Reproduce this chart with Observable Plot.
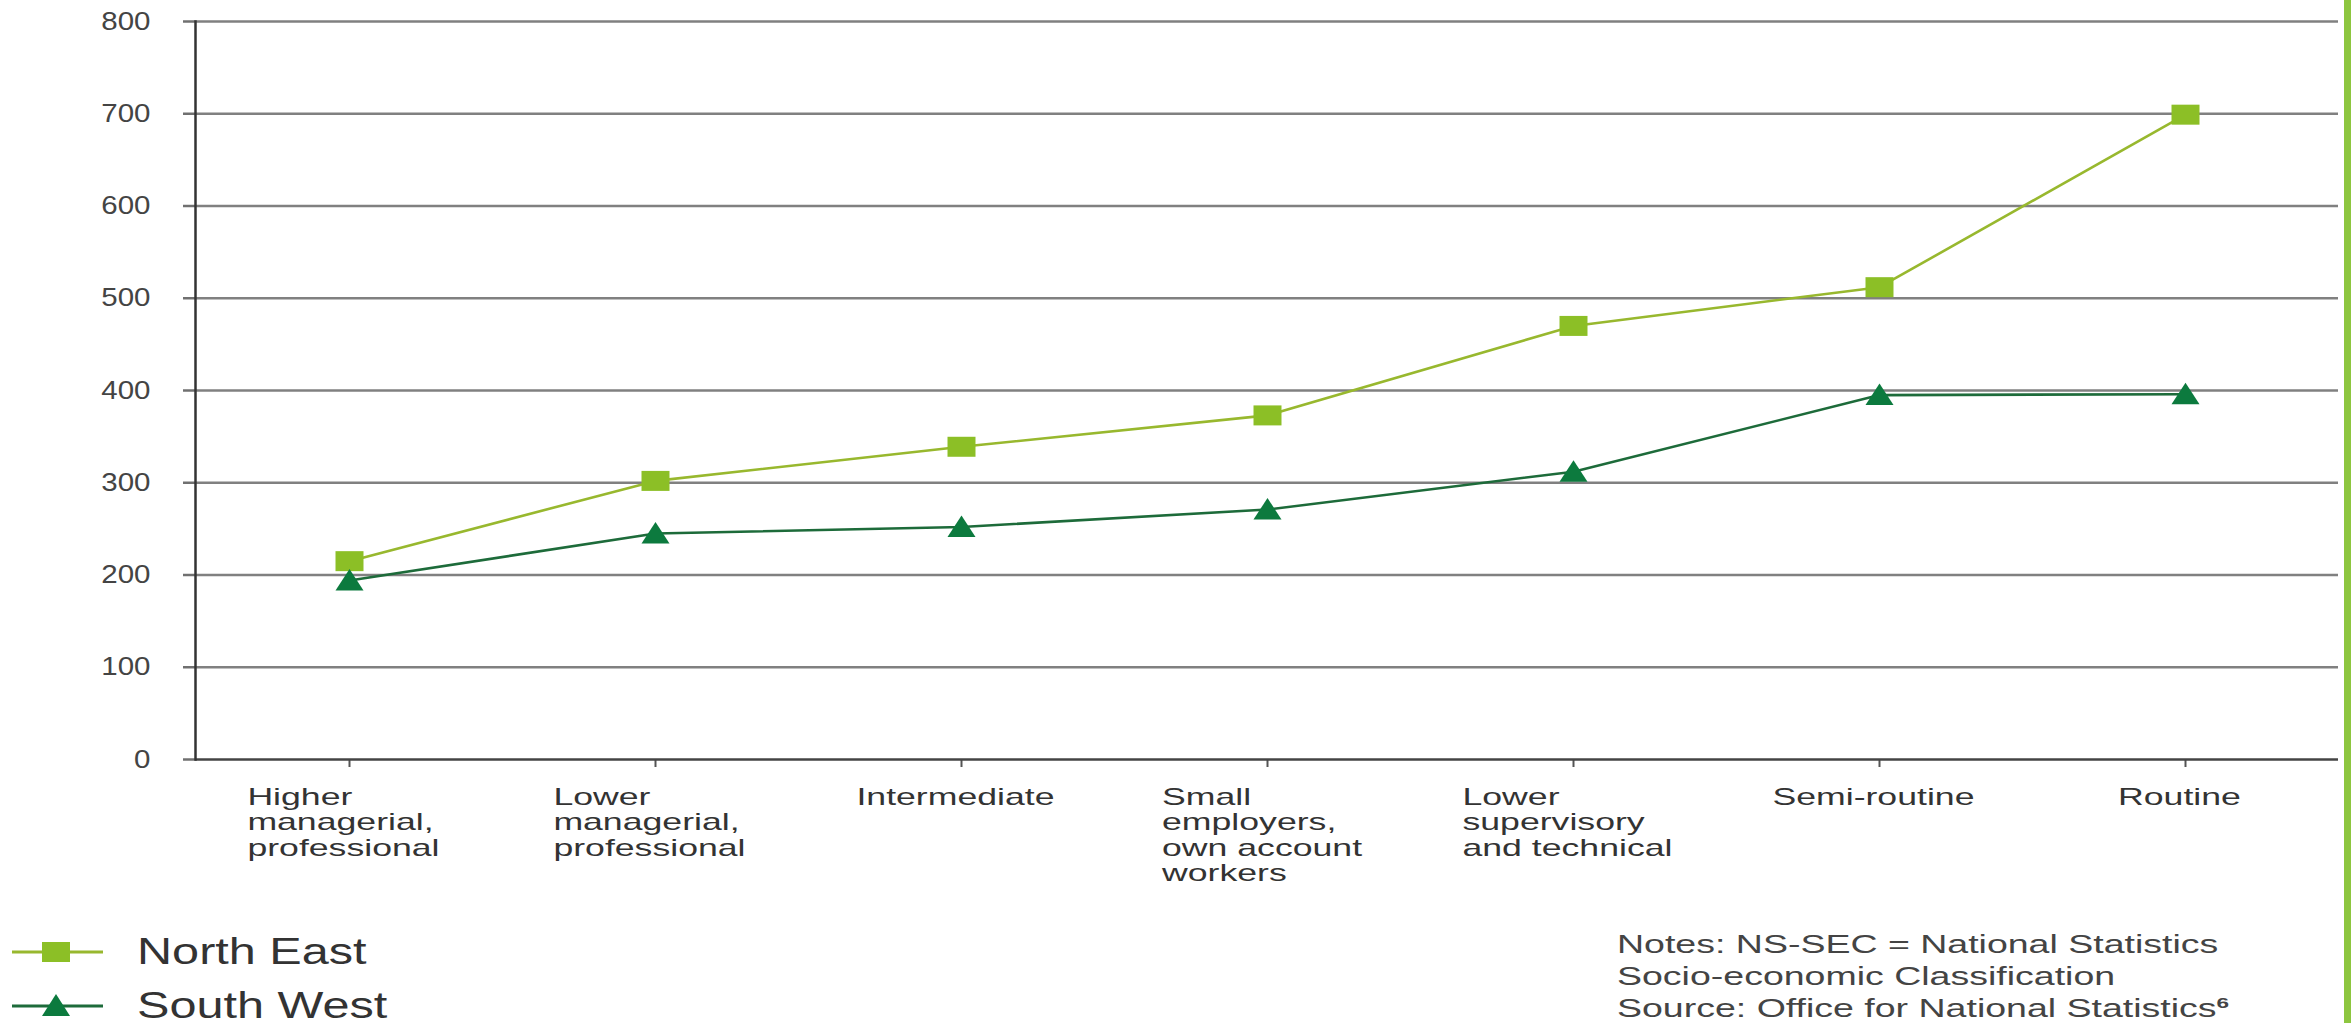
<!DOCTYPE html>
<html><head><meta charset="utf-8">
<script src="https://cdn.jsdelivr.net/npm/d3@7"></script>
<script src="https://cdn.jsdelivr.net/npm/@observablehq/plot@0.6"></script>
<style>
html,body{margin:0;padding:0;background:#fff;overflow:hidden;}
#wrap{position:relative;width:2351px;height:1023px;font-family:"Liberation Sans",Arial,sans-serif;}
#chart{position:absolute;left:0;top:0;}
#bar{position:absolute;left:2344px;top:0;width:7px;height:1023px;background:#8dc63f;}
.leg{position:absolute;left:0;width:600px;height:40px;}
.leg svg{position:absolute;left:0;top:0;}
.leg span{position:absolute;left:137px;top:0;line-height:40px;font-size:36px;color:#333;white-space:nowrap;transform:scaleX(1.35);transform-origin:left center;}
#notes{position:absolute;left:1617px;top:928px;font-size:25px;line-height:32px;color:#444;white-space:nowrap;transform:scaleX(1.5);transform-origin:left top;}
#notes sup{font-size:15px;font-weight:bold;line-height:0;}
</style></head><body>
<div id="wrap"><div id="chart"></div><div id="legend"></div><div id="notes"></div><div id="bar"></div></div>
<script>
const categories = ["Higher managerial, professional", "Lower managerial, professional", "Intermediate", "Small employers, own account workers", "Lower supervisory and technical", "Semi-routine", "Routine"];
const tickLabels = ["Higher\nmanagerial,\nprofessional", "Lower\nmanagerial,\nprofessional", "Intermediate", "Small\nemployers,\nown account\nworkers", "Lower\nsupervisory\nand technical", "Semi-routine", "Routine"];
const seriesNames = ["North East", "South West"];
const northEast = [215, 302, 339, 373, 470, 512, 699];
const southWest = [194, 245, 252, 271, 312, 395, 396];
const yTicks = [0, 100, 200, 300, 400, 500, 600, 700, 800];
const lineColors = ["#98b82e", "#1d6b3a"];
const markerColors = ["#8cbf26", "#0c7a3e"];
const notesLines = ["Notes: NS-SEC = National Statistics", "Socio-economic Classification", "Source: Office for National Statistics"];
const notesSup = "6";

const rows = [];
categories.forEach((c, i) => {
  rows.push({category: c, region: seriesNames[0], value: northEast[i]});
  rows.push({category: c, region: seriesNames[1], value: southWest[i]});
});

const wideSquare = {draw(ctx, size) { const r = Math.sqrt(size / Math.PI); const w = r * 1.4, h = r; ctx.moveTo(-w, -h); ctx.lineTo(w, -h); ctx.lineTo(w, h); ctx.lineTo(-w, h); ctx.closePath(); }};
const wideTriangle = {draw(ctx, size) { const r = Math.sqrt(size / Math.PI); ctx.moveTo(0, -1.15 * r); ctx.lineTo(1.4 * r, r); ctx.lineTo(-1.4 * r, r); ctx.closePath(); }};

const plot = Plot.plot({
  width: 2351, height: 900,
  marginLeft: 195, marginRight: 13, marginTop: 21, marginBottom: 141,
  style: {fontFamily: "'Liberation Sans', Arial, sans-serif", background: "white", overflow: "visible"},
  x: {type: "point", domain: categories, padding: 0.5, label: null},
  y: {domain: [0, 800], label: null},
  color: {domain: seriesNames, range: lineColors},
  marks: [
    Plot.gridY(yTicks.slice(1), {stroke: "#808080", strokeOpacity: 1, strokeWidth: 2.5}),
    Plot.axisY(yTicks, {tickSize: 12, tickPadding: 33, fontSize: 25, fill: "#444", stroke: "#707070", strokeWidth: 2.5, label: null}),
    Plot.axisX({tickSize: 8, tickPadding: 19, fontSize: 23, lineHeight: 1.11, fill: "#333", stroke: "#555", strokeWidth: 2, label: null,
      tickFormat: d => tickLabels[categories.indexOf(d)]}),
    Plot.ruleY([0], {stroke: "#444", strokeWidth: 2.5}),
    Plot.frame({anchor: "left", stroke: "#333", strokeWidth: 2.5}),
    Plot.line(rows, {x: "category", y: "value", z: "region", stroke: "region", strokeWidth: 2.6}),
    Plot.dot(rows.filter(d => d.region === seriesNames[0]), {x: "category", y: "value", symbol: wideSquare, r: 10, fill: markerColors[0], stroke: "none"}),
    Plot.dot(rows.filter(d => d.region === seriesNames[1]), {x: "category", y: "value", symbol: wideTriangle, r: 10, fill: markerColors[1], stroke: "none"})
  ]
});
document.getElementById("chart").append(plot);

// widen the glyphs horizontally (the reference type is stretched), keeping each label anchored
function stretchText(t, s, mode, nudge) {
  const tr = t.getAttribute("transform") || "";
  const b0 = t.getBBox();
  if (mode === "end") {
    const px = b0.x + b0.width;
    t.setAttribute("transform", `${tr} translate(${px},0) scale(${s},1) translate(${-px},0)`);
  } else {
    const c0 = b0.x + b0.width / 2 + nudge;
    t.setAttribute("text-anchor", "start");
    t.querySelectorAll("tspan").forEach(ts => ts.setAttribute("text-anchor", "start"));
    const b1 = t.getBBox();
    const c1 = b1.x + b1.width / 2;
    t.setAttribute("transform", `${tr} translate(${c0},0) scale(${s},1) translate(${-c1},0)`);
  }
}
plot.querySelectorAll('g[aria-label="y-axis tick label"] text').forEach(t => stretchText(t, 1.18, "end", 0));
plot.querySelectorAll('g[aria-label="x-axis tick label"] text').forEach(t => stretchText(t, 1.55, "center", -6));

// legend
const legend = document.getElementById("legend");
const tops = [932, 986];
seriesNames.forEach((name, i) => {
  const div = document.createElement("div");
  div.className = "leg";
  div.style.top = tops[i] + "px";
  const marker = i === 0
    ? `<rect x="42" y="10" width="28" height="20" fill="${markerColors[0]}"/>`
    : `<polygon points="56,8 70,30 42,30" fill="${markerColors[1]}"/>`;
  div.innerHTML = `<svg width="120" height="40"><line x1="12" x2="103" y1="20" y2="20" stroke="${lineColors[i]}" stroke-width="3"/>${marker}</svg><span>${name}</span>`;
  legend.append(div);
});
const notes = document.getElementById("notes");
notes.innerHTML = notesLines.map((l, i) => i === notesLines.length - 1 ? `${l}<sup>${notesSup}</sup>` : l).join("<br>");
</script>
</body></html>
